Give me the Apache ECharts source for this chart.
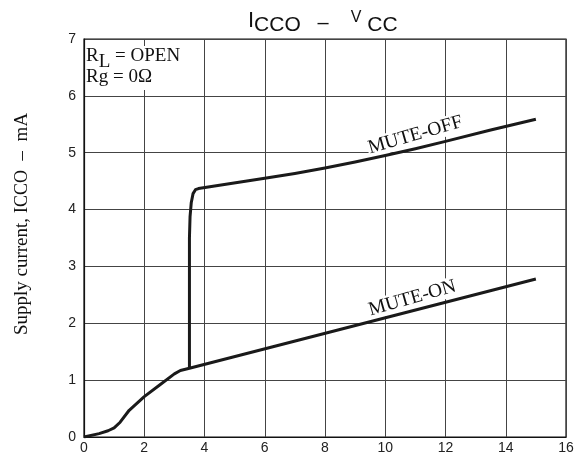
<!DOCTYPE html>
<html>
<head>
<meta charset="utf-8">
<script src="https://cdn.jsdelivr.net/npm/echarts@6/dist/echarts.min.js"></script>
<style>html,body{margin:0;padding:0;background:#fff}#c{width:582px;height:462px}</style>
</head>
<body>
<div id="c"></div>
<script>
// Data
const xTicks = [0, 2, 4, 6, 8, 10, 12, 14, 16];
const yTicks = [0, 1, 2, 3, 4, 5, 6, 7];
const vccOn  = [0, 0.5, 0.8, 1.0, 1.2, 1.5, 2.0, 2.5, 3.0, 3.2, 3.5, 15];
const iccOn  = [0, 0.06, 0.11, 0.16, 0.26, 0.47, 0.71, 0.91, 1.11, 1.17, 1.21, 2.78];
const vccOff = [3.5, 3.5, 3.52, 3.56, 3.62, 3.7, 3.8, 6, 7, 8, 9, 10, 11, 12, 13.5, 15];
const iccOff = [1.21, 3.5, 3.87, 4.12, 4.28, 4.35, 4.37, 4.55, 4.635, 4.73, 4.835, 4.95, 5.07, 5.2, 5.4, 5.59];
const labelOff = {text: 'MUTE-OFF', at: [11.0, 5.31]};
const labelOn  = {text: 'MUTE-ON',  at: [10.9, 2.44]};
const yName = ['Supply current, I', 'CCO', '  –  mA'];

const chart = echarts.init(document.getElementById('c'));
const serif = '"Liberation Serif","Times New Roman",serif';
const sans = '"Liberation Sans",Arial,sans-serif';

function pairs(xs, ys){ return xs.map((x,i)=>[x, ys[i]]); }

function mp(lbl){
  return {
    symbol: 'circle', symbolSize: 1, silent: true,
    itemStyle: {color: 'rgba(0,0,0,0)'},
    data: [{coord: lbl.at}],
    label: {
      show: true, position: 'inside', formatter: lbl.text, rotate: 16,
      fontFamily: serif, fontSize: 19.5, color: '#111',
      backgroundColor: '#fff', padding: [0, 1]
    }
  };
}

chart.setOption({
  animation: false,
  backgroundColor: '#fff',
  grid: {left: 84, right: 16, top: 39, bottom: 25, show: true, borderColor: '#111', borderWidth: 1.2},
  title: {
    left: 243, top: 5,
    text: '{a|I}{b|CCO}{c|   –    }{d|V}{b| CC}',
    textStyle: {
      fontWeight: 'normal',
      rich: {
        a: {fontFamily: sans, fontWeight: 'normal', fontSize: 22, color: '#111', lineHeight: 26, verticalAlign: 'top'},
        b: {fontFamily: sans, fontWeight: 'normal', fontSize: 21, color: '#111', lineHeight: 26, verticalAlign: 'bottom', padding: [6,0,0,0]},
        c: {fontFamily: sans, fontWeight: 'normal', fontSize: 20, color: '#111', lineHeight: 26, verticalAlign: 'middle'},
        d: {fontFamily: sans, fontWeight: 'normal', fontSize: 16, color: '#111', lineHeight: 26, verticalAlign: 'top', padding: [0,0,6,0]}
      }
    }
  },
  xAxis: {
    type: 'value', min: 0, max: 16, interval: 2,
    axisLine: {show: true, lineStyle: {color: '#111', width: 1.2}},
    axisTick: {show: false},
    axisLabel: {fontFamily: sans, fontSize: 14, color: '#222', margin: 4, customValues: xTicks},
    splitLine: {show: true, lineStyle: {color: '#444', width: 1}}
  },
  yAxis: {
    type: 'value', min: 0, max: 7, interval: 1,
    axisLine: {show: true, lineStyle: {color: '#111', width: 1.2}},
    axisTick: {show: false},
    axisLabel: {fontFamily: sans, fontSize: 14, color: '#222', margin: 8, customValues: yTicks},
    splitLine: {show: true, lineStyle: {color: '#444', width: 1}}
  },
  graphic: [{
    type: 'text', left: 86, top: 41, z: 100,
    style: {
      text: '{r|R}{sub|L}{r| = OPEN}\n{r|Rg = 0Ω}',
      backgroundColor: '#fff',
      padding: [0, 4, 2, 0],
      rich: {
        r: {fontFamily: serif, fontSize: 19, fill: '#111', lineHeight: 21},
        sub: {fontFamily: serif, fontSize: 19, fill: '#111', lineHeight: 21, padding: [12,0,0,0]}
      }
    }
  }, {
    type: 'text', x: 22, y: 224, rotation: Math.PI / 2, z: 100,
    style: {
      text: '{n|' + yName[0] + '}{s|' + yName[1] + '}{n|' + yName[2] + '}',
      align: 'center', verticalAlign: 'middle',
      rich: {
        n: {fontFamily: serif, fontSize: 19, fill: '#111'},
        s: {fontFamily: serif, fontSize: 18, fill: '#111'}
      }
    }
  }],
  series: [
    {
      name: 'MUTE-ON', type: 'line', data: pairs(vccOn, iccOn),
      showSymbol: false, smooth: false,
      lineStyle: {color: '#1a1a1a', width: 3, join: 'round'}, z: 5,
      markPoint: mp(labelOn)
    },
    {
      name: 'MUTE-OFF', type: 'line', data: pairs(vccOff, iccOff),
      showSymbol: false, smooth: false,
      lineStyle: {color: '#1a1a1a', width: 3, join: 'round'}, z: 5,
      markPoint: mp(labelOff)
    }
  ]
});
</script>
</body>
</html>
